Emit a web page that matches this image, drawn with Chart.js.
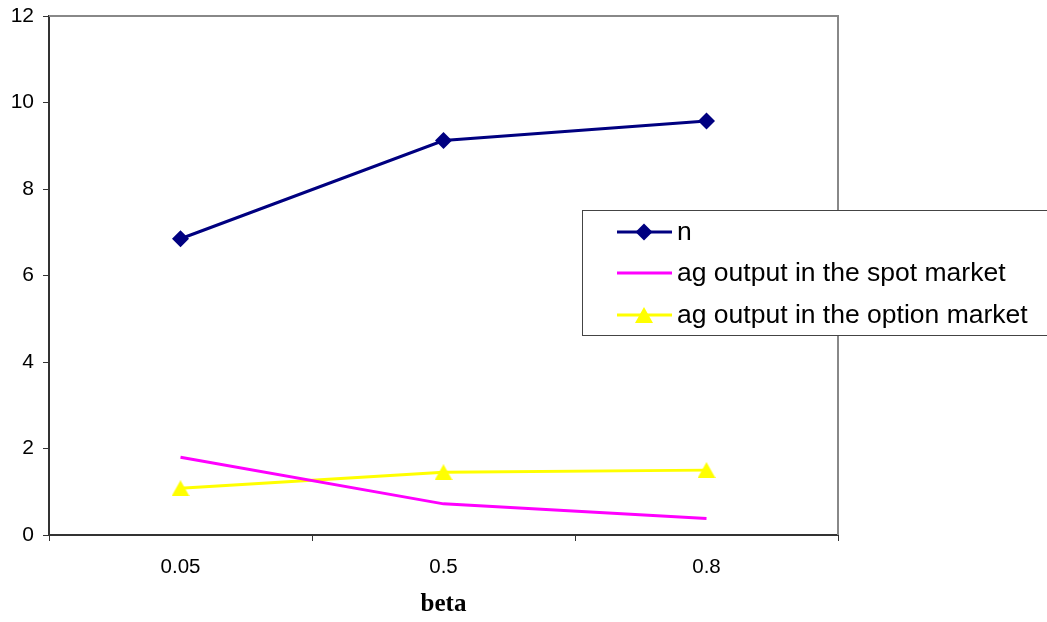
<!DOCTYPE html>
<html>
<head>
<meta charset="utf-8">
<script src="https://cdn.jsdelivr.net/npm/chart.js@4.4.1/dist/chart.umd.min.js"></script>
<style>
  html, body { margin: 0; padding: 0; background: #ffffff; }
  #wrap { width: 1047px; height: 622px; position: relative; }
</style>
</head>
<body>
<div id="wrap"><canvas id="chart" width="1047" height="622"></canvas></div>
<script>
// Categories along the x axis (beta)
const betaLabels = ['0.05', '0.5', '0.8'];

// Series values
const nValues = [6.85, 9.12, 9.57];
const spotOutput = [1.80, 0.72, 0.38];
const optionOutput = [1.08, 1.45, 1.50];

// Y axis range and step
const yMin = 0;
const yMax = 12;
const yStep = 2;

const seriesNames = ['n', 'ag output in the spot market', 'ag output in the option market'];

// Triangle marker centred on its bounding box
function makeTriangle(color, w, h) {
  const c = document.createElement('canvas');
  c.width = w;
  c.height = h;
  const g = c.getContext('2d');
  g.fillStyle = color;
  g.beginPath();
  g.moveTo(w / 2, 0);
  g.lineTo(w, h);
  g.lineTo(0, h);
  g.closePath();
  g.fill();
  return c;
}
const triangleMarker = makeTriangle('#ffff00', 18, 16);

// Gray frame on the top and right of the plot area
const frameBorder = {
  id: 'frameBorder',
  afterDatasetsDraw(chart) {
    const { ctx, chartArea: a } = chart;
    ctx.save();
    ctx.strokeStyle = '#888888';
    ctx.lineWidth = 2;
    ctx.beginPath();
    ctx.moveTo(a.left, a.top);
    ctx.lineTo(a.right, a.top);
    ctx.lineTo(a.right, a.bottom);
    ctx.stroke();
    ctx.restore();
  }
};

// Boxed legend placed over the right side of the plot
const boxLegend = {
  id: 'boxLegend',
  afterDraw(chart) {
    const { ctx } = chart;
    const box = { x: 582.5, y: 210.5, w: 470, h: 125 };
    ctx.save();
    ctx.fillStyle = '#ffffff';
    ctx.fillRect(box.x, box.y, box.w, box.h);
    ctx.strokeStyle = '#444444';
    ctx.lineWidth = 1;
    ctx.strokeRect(box.x, box.y, box.w, box.h);
    const rows = [232, 273, 315];
    chart.data.datasets.forEach((ds, i) => {
      const y = rows[i];
      ctx.strokeStyle = ds.borderColor;
      ctx.lineWidth = ds.borderWidth;
      ctx.beginPath();
      ctx.moveTo(617, y);
      ctx.lineTo(672, y);
      ctx.stroke();
      if (ds.pointStyle && ds.pointRadius > 0) {
        ctx.fillStyle = ds.pointBackgroundColor || ds.borderColor;
        ctx.strokeStyle = ds.pointBorderColor || ds.borderColor;
        Chart.helpers.drawPoint(ctx, {
          pointStyle: ds.pointStyle,
          radius: ds.pointRadius,
          borderWidth: 0,
          rotation: 0
        }, 644, y);
      }
      ctx.fillStyle = '#000000';
      ctx.font = '26.5px "Liberation Sans", Arial, sans-serif';
      ctx.textBaseline = 'middle';
      ctx.textAlign = 'left';
      ctx.fillText(ds.label, 677, y + 1);
    });
    ctx.restore();
  }
};

new Chart(document.getElementById('chart'), {
  type: 'line',
  data: {
    labels: betaLabels,
    datasets: [
      {
        label: seriesNames[0],
        data: nValues,
        borderColor: '#000080',
        borderWidth: 3,
        pointStyle: 'rectRot',
        pointRadius: 8.5,
        pointBackgroundColor: '#000080',
        pointBorderColor: '#000080',
        pointBorderWidth: 0,
        tension: 0
      },
      {
        label: seriesNames[1],
        data: spotOutput,
        borderColor: '#ff00ff',
        borderWidth: 3,
        pointRadius: 0,
        tension: 0
      },
      {
        label: seriesNames[2],
        data: optionOutput,
        borderColor: '#ffff00',
        borderWidth: 3,
        pointStyle: triangleMarker,
        pointRadius: 9,
        pointBackgroundColor: '#ffff00',
        pointBorderColor: '#ffff00',
        pointBorderWidth: 0,
        tension: 0
      }
    ]
  },
  options: {
    responsive: false,
    animation: false,
    devicePixelRatio: 1,
    layout: { padding: { top: 16, right: 209, left: 0, bottom: 0 } },
    plugins: {
      legend: { display: false },
      tooltip: { enabled: false }
    },
    scales: {
      x: {
        type: 'category',
        offset: true,
        grid: {
          offset: true,
          drawOnChartArea: false,
          drawTicks: true,
          tickLength: 6,
          color: '#333333',
          lineWidth: 1
        },
        border: { display: true, color: '#333333', width: 2 },
        ticks: {
          color: '#000000',
          padding: 14,
          font: { family: '"Liberation Sans", Arial, sans-serif', size: 20.5 }
        },
        title: {
          display: true,
          text: 'beta',
          color: '#000000',
          padding: { top: 0, bottom: 2 },
          font: { family: '"Liberation Serif", "Times New Roman", serif', size: 25, weight: 'bold' }
        },
        afterFit(scale) {
          scale.height = 87;
          scale.paddingLeft = 0;
          scale.paddingRight = 0;
        }
      },
      y: {
        min: yMin,
        max: yMax,
        grid: {
          drawOnChartArea: false,
          drawTicks: true,
          tickLength: 6,
          color: '#333333'
        },
        border: { display: true, color: '#333333', width: 2 },
        ticks: {
          stepSize: yStep,
          color: '#000000',
          padding: 9,
          font: { family: '"Liberation Sans", Arial, sans-serif', size: 21 }
        },
        afterFit(scale) {
          scale.width = 49;
          scale.paddingTop = 0;
          scale.paddingBottom = 0;
        }
      }
    }
  },
  plugins: [frameBorder, boxLegend]
});
</script>
</body>
</html>
